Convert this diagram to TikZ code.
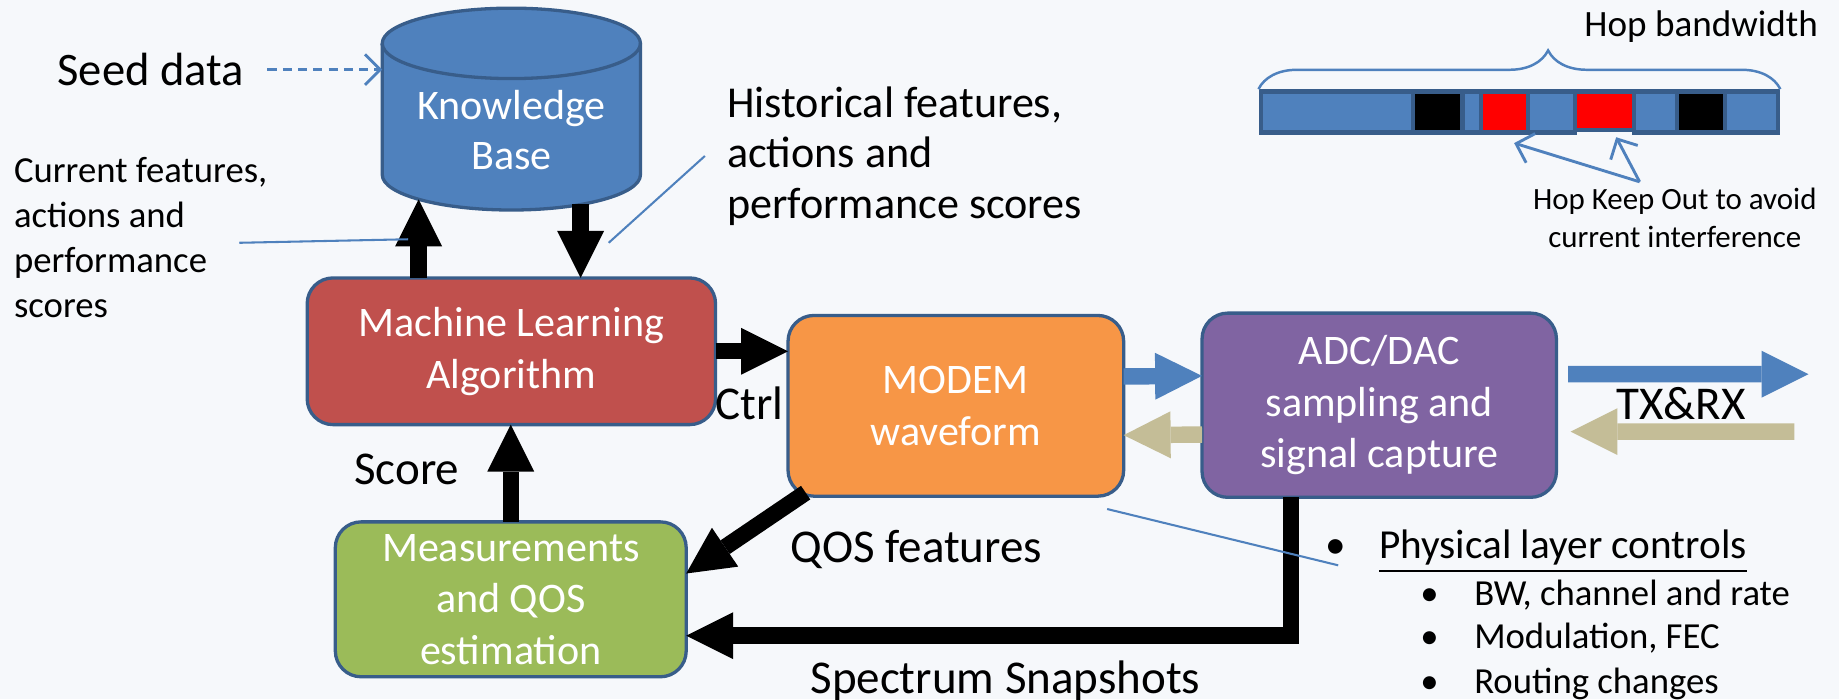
\documentclass[tikz,border=0pt]{standalone}
\usepackage{fontspec}
\setmainfont{Carlito}
\usetikzlibrary{arrows.meta, decorations.pathreplacing}
\definecolor{PageBg}{HTML}{F6F8FB}
\definecolor{EdgeBlue}{HTML}{385D8A}
\definecolor{KBBlue}{HTML}{4F81BD}
\definecolor{MLRed}{HTML}{C0504D}
\definecolor{ModemOrange}{HTML}{F79646}
\definecolor{AdcPurple}{HTML}{8064A2}
\definecolor{MeasGreen}{HTML}{9BBB59}
\definecolor{RxTan}{HTML}{C4BD97}

\begin{document}
\begin{tikzpicture}[x=0.01cm, y=-0.01cm,
  every node/.style={inner sep=0pt, outer sep=0pt},
  blockbox/.style={draw=EdgeBlue, line width=0.8pt, rounded corners=0.22cm, text=white, align=center, font=\fontsize{10.2}{12.5}\selectfont},
  mlbox/.style={blockbox, fill=MLRed, minimum width=3.48cm, minimum height=1.25cm},
  modembox/.style={blockbox, fill=ModemOrange, minimum width=2.86cm, minimum height=1.54cm},
  adcbox/.style={blockbox, fill=AdcPurple, minimum width=3.02cm, minimum height=1.57cm},
  measbox/.style={blockbox, fill=MeasGreen, minimum width=2.99cm, minimum height=1.32cm},
  cyl/.style={draw=EdgeBlue, line width=0.8pt, fill=KBBlue},
  lbl/.style={anchor=base west, font=\fontsize{11.4}{13.7}\selectfont},
  notetext/.style={anchor=north west, align=left},
  blockarr/.style={line width=0.14cm, -{Triangle[length=0.4cm, width=0.4cm, line width=0pt]}},
  callout/.style={draw=KBBlue, line width=0.5pt},
  thinarr/.style={KBBlue, line width=0.7pt, -{Straight Barb[length=0.13cm, width=0.26cm]}},
  hopcell/.style={draw=EdgeBlue, line width=1pt}
]
  \fill[PageBg] (0,0) rectangle (1568,596);
  \useasboundingbox (0,0) rectangle (1568,596);

  % Knowledge base
  \node[minimum width=2.2cm, minimum height=1.72cm] (kb) at (436,93) {};
  \draw[cyl] ([yshift=-0.3cm]kb.north west) -- ([yshift=0.3cm]kb.south west)
    arc (180:360:1.1cm and 0.3cm) -- ([yshift=-0.3cm]kb.north east)
    arc (0:180:1.1cm and 0.3cm) -- cycle;
  \draw[cyl, fill=none] ([yshift=-0.3cm]kb.north west) arc (180:360:1.1cm and 0.3cm);
  \node[text=white, align=center, font=\fontsize{10.2}{12.2}\selectfont] (kbtext) at (436,111) {Knowledge\\Base};

  % Blocks
  \node[mlbox] (ml) at (436,299.5) {Machine Learning\\Algorithm};
  \node[modembox] (modem) at (815,346) {MODEM\\waveform};
  \node[adcbox] (adc) at (1176,345.5) {ADC/DAC\\sampling and\\signal capture};
  \node[measbox] (meas) at (435.5,511) {Measurements\\and QOS\\estimation};

  % Labels
  \node[lbl, font=\fontsize{11.3}{13.5}\selectfont] (seed) at (49,73) {Seed data};
  \node[notetext, font=\fontsize{8.9}{10.9}\selectfont] (curfeat) at (12,134) {Current features,\\actions and\\performance\\scores};
  \node[notetext, font=\fontsize{10.7}{12.2}\selectfont] (histfeat) at (620,74) {Historical features,\\actions and\\performance scores};
  \node[lbl] (score) at (302,413) {Score};
  \node[lbl] (ctrl) at (610,358) {Ctrl};
  \node[lbl] (qos) at (674,480) {QOS features};
  \node[lbl] (spec) at (691,591) {Spectrum Snapshots};
  \node[lbl] (txrx) at (1378,358) {TX\&RX};

  % Physical layer list
  \node[lbl, font=\fontsize{10}{12}\selectfont] (phy) at (1130,476) {\makebox[0.46cm][l]{\textbullet}\underline{Physical layer controls}};
  \node[lbl, font=\fontsize{8.9}{10.5}\selectfont] (bwrate) at (1211,516) {\makebox[0.46cm][l]{\textbullet}BW, channel and rate};
  \node[lbl, font=\fontsize{8.9}{10.5}\selectfont] (modfec) at (1211,553) {\makebox[0.46cm][l]{\textbullet}Modulation, FEC};
  \node[lbl, font=\fontsize{8.9}{10.5}\selectfont] (routing) at (1211,591) {\makebox[0.46cm][l]{\textbullet}Routing changes};

  % Hop bandwidth bar
  \draw[hopcell, fill=KBBlue] (1075,78) rectangle (1205,113);
  \draw[hopcell, fill=black] (1205,78) rectangle (1247,113);
  \draw[hopcell, fill=KBBlue] (1247,78) rectangle (1263,113);
  \draw[hopcell, fill=red] (1263,78) rectangle (1303,113);
  \draw[hopcell, fill=KBBlue] (1303,78) rectangle (1343,113);
  \draw[hopcell, fill=red] (1343,78) rectangle (1393,111);
  \draw[hopcell, fill=KBBlue] (1393,78) rectangle (1430,113);
  \draw[hopcell, fill=black] (1430,78) rectangle (1471,113);
  \draw[hopcell, fill=KBBlue] (1471,78) rectangle (1516,113);
  \draw[KBBlue, line width=0.6pt, decorate, decoration={brace, amplitude=0.33cm, aspect=0.555}] (1073,76) -- (1518,76);
  \node[lbl, font=\fontsize{9}{11}\selectfont] (hopbw) at (1351,31) {Hop bandwidth};
  \node[anchor=north, align=center, font=\fontsize{7.5}{9.4}\selectfont] (keepout) at (1428,160) {Hop Keep Out to avoid\\current interference};
  \coordinate (kofork) at (1398,155);
  \coordinate (kored1) at (1291,122);
  \coordinate (kored2) at (1378,117);
  \draw[thinarr] (kofork) -- (kored1);
  \draw[thinarr] (kofork) -- (kored2);

  % Black block arrows
  \draw[blockarr] ([xshift=-0.79cm]ml.north) -- ([xshift=-0.79cm, yshift=0.09cm]kb.south);
  \draw[blockarr] ([xshift=0.59cm, yshift=0.05cm]kb.south) -- ([xshift=0.59cm]ml.north);
  \draw[blockarr] (ml.east) -- (ml.east -| modem.west);
  \draw[blockarr] (meas.north) -- (meas.north |- ml.south);
  \draw[blockarr] ([xshift=0.15cm, yshift=0.03cm]modem.south west) -- ([yshift=0.22cm]meas.east);
  \draw[blockarr] ([xshift=-0.75cm]adc.south) |- ([yshift=-0.31cm]meas.east);

  % TX and RX arrows
  \draw[blockarr, KBBlue] ([yshift=0.25cm]modem.east) -- ([yshift=0.25cm]adc.west);
  \draw[blockarr, RxTan] ([yshift=-0.25cm]adc.west) -- ([yshift=-0.25cm]modem.east);
  \coordinate (txend) at (1542,319);
  \coordinate (rxstart) at (1530,368);
  \draw[blockarr, KBBlue] ([xshift=0.1cm, yshift=0.265cm]adc.east) -- (txend);
  \draw[blockarr, RxTan] (rxstart) -- ([xshift=0.12cm, yshift=-0.225cm]adc.east);

  % Seed data
  \draw[thinarr, dash pattern=on 2.2pt off 1.5pt] ([xshift=0.2cm]seed.east) -- (seed.east -| kb.west);

  % Callout lines
  \coordinate (curtip) at (204,207);
  \coordinate (curend) at (348,204);
  \coordinate (histtip) at (519,207);
  \coordinate (histend) at (601,133);
  \coordinate (phytip) at (944,434);
  \coordinate (phyend) at (1141,482);
  \draw[callout] (curtip) -- (curend);
  \draw[callout] (histtip) -- (histend);
  \draw[callout] (phytip) -- (phyend);
\end{tikzpicture}
\end{document}
